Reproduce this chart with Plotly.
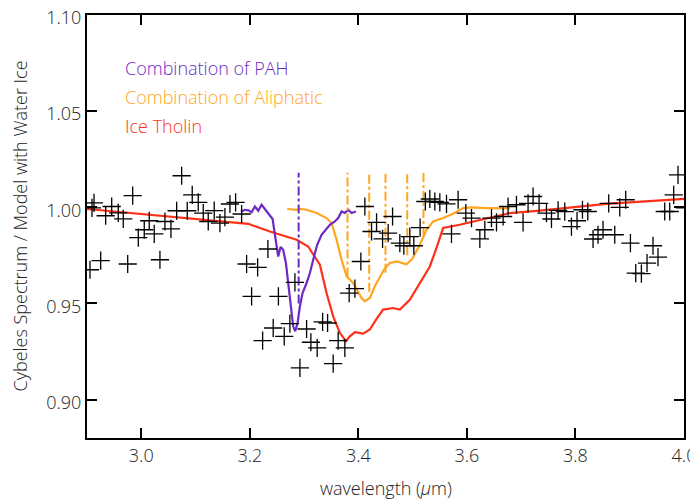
import plotly.graph_objects as go

# Observed ratio data points (wavelength in micron, ratio)
obs_wl = [2.9055, 2.9252, 2.9129, 2.9092, 2.9344, 2.9455, 2.9576, 2.9668, 2.9842, 2.9750,
          2.9945, 3.0055, 3.0147, 3.0239, 3.0344, 3.0436, 3.0547, 3.0652, 3.0744, 3.0847,
          3.0939, 3.1050, 3.1142, 3.1234, 3.1344, 3.1449, 3.1541, 3.1634, 3.1738, 3.1849,
          3.1941, 3.2144, 3.2333, 3.2033, 3.2527, 3.2431, 3.2236, 3.2634, 3.2738, 3.2831,
          3.3046, 3.3125, 3.3241, 3.2923, 3.3341, 3.3433, 3.3536, 3.3628, 3.3751, 3.3831,
          3.3936, 3.4046, 3.4120, 3.4243, 3.4335, 3.4446, 3.4549, 3.4630, 3.4764, 3.4838,
          3.4948, 3.5022, 3.5138, 3.5234, 3.5317, 3.5409, 3.5501, 3.5624, 3.5716, 3.5838,
          3.5980, 3.6085, 3.6238, 3.6330, 3.6453, 3.6545, 3.6667, 3.6759, 3.6913, 3.7035,
          3.7127, 3.7219, 3.7330, 3.7466, 3.7558, 3.7680, 3.7803, 3.7926, 3.8029, 3.8129,
          3.8227, 3.8324, 3.8416, 3.8508, 3.8613, 3.8724, 3.8816, 3.8926, 3.9013, 3.9111,
          3.9215, 3.9319, 3.9429, 3.9521, 3.9645, 3.9737, 3.9810, 3.9890, 4.0018]
obs_ratio = [0.9675, 0.9722, 1.0023, 0.9997, 0.9956, 1.0004, 0.9971, 0.9940, 1.0061, 0.9705,
             0.9842, 0.9883, 0.9930, 0.9862, 0.9727, 0.9926, 0.9888, 0.9982, 1.0164, 0.9982,
             1.0065, 1.0025, 0.9970, 0.9926, 0.9983, 0.9918, 0.9949, 1.0017, 1.0025, 0.9965,
             0.9705, 0.9687, 0.9783, 0.9537, 0.9537, 0.9372, 0.9306, 0.9329, 0.9395, 0.9609,
             0.9367, 0.9298, 0.9269, 0.9165, 0.9404, 0.9398, 0.9187, 0.9306, 0.9269, 0.9554,
             0.9577, 0.9718, 1.0004, 0.9874, 0.9921, 0.9836, 0.9866, 0.9952, 0.9814, 0.9800,
             0.9847, 0.9800, 0.9894, 1.0030, 1.0043, 1.0030, 1.0025, 1.0018, 0.9862, 1.0039,
             0.9970, 0.9944, 0.9836, 0.9883, 0.9944, 0.9921, 0.9952, 1.0004, 1.0013, 0.9921,
             1.0020, 1.0056, 1.0020, 0.9970, 0.9939, 0.9984, 0.9977, 0.9899, 0.9930, 0.9987,
             0.9978, 0.9835, 0.9857, 0.9883, 1.0020, 0.9857, 0.9999, 1.0039, 0.9814, 0.9658,
             0.9655, 0.9710, 0.9800, 0.9741, 0.9978, 0.9978, 1.0065, 1.0169, 0.9997]

# Ice tholin model
tholin_wl = [2.9, 3.1971, 3.2370, 3.2646, 3.2862, 3.3075, 3.3291, 3.3414, 3.3536, 3.3659,
             3.3770, 3.3843, 3.3936, 3.4088, 3.4212, 3.4335, 3.4457, 3.4641, 3.4764, 3.4948,
             3.5133, 3.5317, 3.5427, 3.5562, 3.5869, 3.6298, 3.6790, 3.7343, 3.7834, 3.8571, 4.0]
tholin_ratio = [0.9991, 0.9914, 0.9874, 0.9852, 0.9831, 0.9796, 0.9701, 0.9554, 0.9433, 0.9347,
                0.9303, 0.9329, 0.9350, 0.9343, 0.9364, 0.9419, 0.9468, 0.9476, 0.9468, 0.9519,
                0.9606, 0.9692, 0.9779, 0.9892, 0.9909, 0.9939, 0.9970, 0.9983, 0.9996, 1.0018, 1.0044]

# Combination of PAH model
pah_wl = [3.1836, 3.1910, 3.1971, 3.2033, 3.2094, 3.2155, 3.2217, 3.2278, 3.2339, 3.2420,
          3.2449, 3.2494, 3.2523, 3.2567, 3.2615, 3.2665, 3.2707, 3.2751, 3.2799, 3.2836,
          3.2880, 3.2923, 3.2972, 3.3046, 3.3107, 3.3168, 3.3241, 3.3322, 3.3414, 3.3475,
          3.3567, 3.3628, 3.3691, 3.3751, 3.3812, 3.3875, 3.3954]
pah_ratio = [0.9977, 0.9987, 0.9984, 0.9974, 1.0004, 0.9982, 1.0013, 0.9991, 0.9966, 0.9939,
             0.9883, 0.9779, 0.9744, 0.9793, 0.9779, 0.9710, 0.9606, 0.9468, 0.9381, 0.9355,
             0.9398, 0.9485, 0.9554, 0.9606, 0.9658, 0.9727, 0.9805, 0.9857, 0.9892, 0.9909,
             0.9926, 0.9944, 0.9978, 0.9970, 0.9987, 0.9970, 0.9978]

# Combination of aliphatic model
aliph_wl = [3.2689, 3.2862, 3.2923, 3.3046, 3.3230, 3.3414, 3.3506, 3.3599, 3.3691, 3.3783,
            3.3904, 3.3996, 3.4059, 3.4120, 3.4212, 3.4304, 3.4365, 3.4427, 3.4470, 3.4519,
            3.4580, 3.4704, 3.4825, 3.4888, 3.4994, 3.5133, 3.5256, 3.5378, 3.5562, 3.5746,
            3.5930, 3.6085, 3.6361, 3.6606, 3.6790]
aliph_ratio = [0.9991, 0.9987, 0.9992, 0.9987, 0.9970, 0.9944, 0.9918, 0.9831, 0.9727, 0.9641,
               0.9606, 0.9563, 0.9528, 0.9511, 0.9528, 0.9589, 0.9623, 0.9658, 0.9675, 0.9692,
               0.9710, 0.9718, 0.9710, 0.9704, 0.9732, 0.9805, 0.9883, 0.9926, 0.9944, 0.9966,
               0.9996, 0.9999, 0.9996, 0.9996, 0.9994]

# Band-centre markers
pah_band_wl = [3.29]
pah_band_bottom = [0.950]
aliph_band_wl = [3.38, 3.42, 3.45, 3.49, 3.52]
aliph_band_bottom = [0.964, 0.956, 0.966, 0.975, 0.985]
band_top = 1.018

legend_labels = ["Combination of PAH", "Combination of Aliphatic", "Ice Tholin"]

x_ticks = [3.0, 3.2, 3.4, 3.6, 3.8, 4.0]
y_ticks = [0.90, 0.95, 1.00, 1.05, 1.10]

PURPLE = "rgb(108,42,196)"
ORANGE = "rgb(255,165,32)"
RED = "rgb(255,48,24)"
FONT = "Open Sans"
TXT = "#222"

fig = go.Figure()

fig.add_trace(go.Scatter(x=tholin_wl, y=tholin_ratio, mode="lines",
                         line=dict(color=RED, width=2.2), showlegend=False))
fig.add_trace(go.Scatter(x=aliph_wl, y=aliph_ratio, mode="lines",
                         line=dict(color=ORANGE, width=2.2), showlegend=False))
fig.add_trace(go.Scatter(x=pah_wl, y=pah_ratio, mode="lines",
                         line=dict(color=PURPLE, width=2.2), showlegend=False))

for xv, yb in zip(pah_band_wl, pah_band_bottom):
    fig.add_trace(go.Scatter(x=[xv, xv], y=[yb, band_top], mode="lines",
                             line=dict(color=PURPLE, width=2, dash="dashdot"), showlegend=False))
for xv, yb in zip(aliph_band_wl, aliph_band_bottom):
    fig.add_trace(go.Scatter(x=[xv, xv], y=[yb, band_top], mode="lines",
                             line=dict(color=ORANGE, width=2, dash="dashdot"), showlegend=False))

fig.add_trace(go.Scatter(x=obs_wl, y=obs_ratio, mode="markers",
                         marker=dict(symbol="cross-thin", size=13, color="black",
                                     line=dict(color="black", width=1.3)),
                         showlegend=False))

for label, color, yp in zip(legend_labels, [PURPLE, ORANGE, RED], [0.875, 0.806, 0.737]):
    fig.add_annotation(x=0.06, y=yp, xref="paper", yref="paper", text=label,
                       showarrow=False, xanchor="left", yanchor="middle",
                       font=dict(family=FONT, size=18, color=color, weight=300))

fig.add_annotation(x=0.5, y=0, xref="paper", yref="paper", text="wavelength (<i>µ</i>m)",
                   showarrow=False, xanchor="center", yanchor="middle", yshift=-50,
                   font=dict(family=FONT, size=18, color=TXT, weight=300))
fig.add_annotation(x=0, y=0.5, xref="paper", yref="paper",
                   text="Cybeles Spectrum / Model with Water Ice", textangle=-90,
                   showarrow=False, xanchor="center", yanchor="middle", xshift=-68,
                   font=dict(family=FONT, size=18, color=TXT, weight=300))

axis_common = dict(showline=True, linecolor="black", linewidth=2, mirror="ticks",
                   ticks="inside", ticklen=10, tickwidth=2, tickcolor="black",
                   showgrid=False, zeroline=False, automargin=False,
                   ticklabeloverflow="allow",
                   tickfont=dict(family=FONT, size=18, color=TXT, weight=300))

fig.update_xaxes(range=[2.9, 4.0], tickvals=x_ticks, tickformat=".1f", **axis_common)
fig.update_yaxes(range=[0.88, 1.10], tickvals=y_ticks, tickformat=".2f",
                 ticklabelshift=3, **axis_common)

# page body adds an 8px offset, so the figure is sized to fill the remaining window
fig.update_layout(width=690, height=492, margin=dict(l=79, r=14, t=7, b=62),
                  plot_bgcolor="white", paper_bgcolor="white")

fig.write_html("out.html")
